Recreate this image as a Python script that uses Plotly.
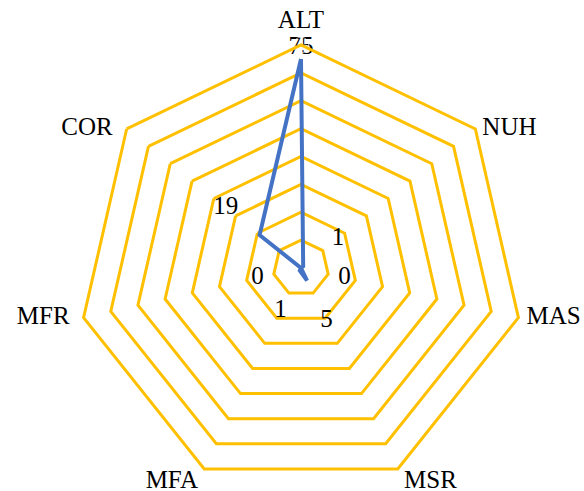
import plotly.graph_objects as go

# Radar categories (clockwise from the top) and their scores
categories = ["ALT", "NUH", "MAS", "MSR", "MFA", "MFR", "COR"]
scores = [75, 1, 0, 5, 1, 0, 19]

# Radial scale
r_max = 80
r_step = 10

# Style
grid_color = "#FFC000"
line_color = "#4472C4"
font_family = "Liberation Serif, Times New Roman, serif"
font_size = 25
# radial distance (in axis units) between each point and its value label
label_pad = [4, 16, 16, 16, 16, 16, 15.5]
# placement of the category names around the outer ring
cat_anchor = ["top center", "middle right", "middle right", "bottom right",
              "bottom left", "middle left", "middle left"]
cat_gap_px = [10.75, 7, 8, 0, 0, 14, 14]
NBSP = "\u00a0"

fig = go.Figure()

fig.add_trace(go.Scatterpolar(
    r=scores + scores[:1],
    theta=categories + categories[:1],
    mode="lines",
    line=dict(color=line_color, width=4),
    hoverinfo="skip",
    showlegend=False,
))

# value labels
fig.add_trace(go.Scatterpolar(
    r=[v + p for v, p in zip(scores, label_pad)],
    theta=categories,
    mode="text",
    text=[str(v) for v in scores],
    textposition="middle center",
    textfont=dict(family=font_family, size=font_size, color="black"),
    hoverinfo="skip",
    showlegend=False,
    cliponaxis=False,
))

# category names, anchored on the outer ring vertices; an invisible marker
# of the given size pushes each name away from its vertex
cat_text = []
for name, anchor in zip(categories, cat_anchor):
    if anchor.startswith("bottom"):
        name = NBSP + name if anchor.endswith("right") else name + NBSP
    cat_text.append(name)

fig.add_trace(go.Scatterpolar(
    r=[r_max] * len(categories),
    theta=categories,
    mode="markers+text",
    text=cat_text,
    textposition=cat_anchor,
    marker=dict(size=[max(g - 1, 0) * 1.6 for g in cat_gap_px],
                color="rgba(0,0,0,0)"),
    textfont=dict(family=font_family, size=font_size, color="black"),
    hoverinfo="skip",
    showlegend=False,
    cliponaxis=False,
))

fig.update_layout(
    width=584,
    height=491,
    margin=dict(l=0, r=0, t=0, b=0),
    paper_bgcolor="white",
    plot_bgcolor="white",
    font=dict(family=font_family, size=font_size, color="black"),
    polar=dict(
        domain=dict(x=[78 / 584, 524 / 584], y=[0, 446 / 491]),
        gridshape="linear",
        bgcolor="white",
        radialaxis=dict(
            range=[0, r_max],
            dtick=r_step,
            showticklabels=False,
            ticks="",
            showline=False,
            gridcolor=grid_color,
            gridwidth=3,
        ),
        angularaxis=dict(
            direction="clockwise",
            rotation=90,
            showgrid=False,
            showline=True,
            linecolor=grid_color,
            linewidth=3,
            ticks="",
            showticklabels=False,
        ),
    ),
)

fig.write_html("out.html")
